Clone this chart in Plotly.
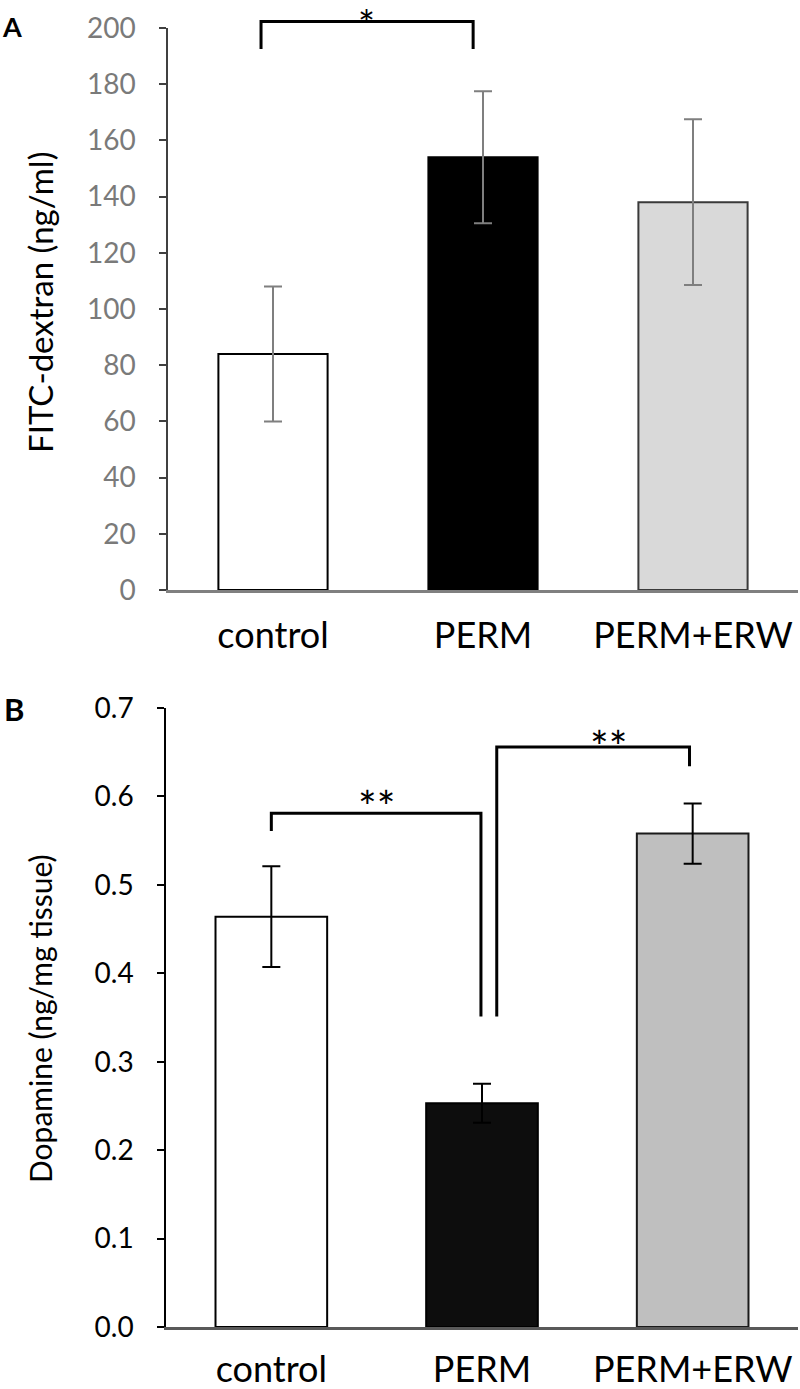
import plotly.graph_objects as go

categories = ["control", "PERM", "PERM+ERW"]

# Panel A: FITC-dextran (ng/ml)
fitc_mean = [84, 154, 138]
fitc_err = [24, 23.5, 29.5]
fitc_ticks = [0, 20, 40, 60, 80, 100, 120, 140, 160, 180, 200]

# Panel B: Dopamine (ng/mg tissue)
dopa_mean = [0.464, 0.253, 0.558]
dopa_err = [0.057, 0.022, 0.034]
dopa_ticks = [0.0, 0.1, 0.2, 0.3, 0.4, 0.5, 0.6, 0.7]

FONT = "Lato"
W, H = 800, 1389

fig = go.Figure()

fig.add_trace(go.Bar(
    x=categories, y=fitc_mean, xaxis="x", yaxis="y", width=0.52,
    marker=dict(color=["#ffffff", "#000000", "#d9d9d9"],
                line=dict(color=["#000000", "#000000", "#3a3a3a"], width=2)),
    error_y=dict(type="data", array=fitc_err, color="#7f7f7f", thickness=2, width=9),
    showlegend=False, hoverinfo="skip",
))
fig.add_trace(go.Bar(
    x=categories, y=dopa_mean, xaxis="x2", yaxis="y2", width=0.53,
    marker=dict(color=["#ffffff", "#0d0d0d", "#bfbfbf"],
                line=dict(color=["#000000", "#000000", "#1a1a1a"], width=2)),
    error_y=dict(type="data", array=dopa_err, color="#000000", thickness=2, width=9),
    showlegend=False, hoverinfo="skip",
))

def py(ypix):
    return (H - ypix) / H

axis_common = dict(showgrid=False, zeroline=False, showline=True, automargin=False)

fig.update_layout(
    width=W, height=H,
    margin=dict(l=0, r=0, t=0, b=0, autoexpand=False),
    paper_bgcolor="white", plot_bgcolor="white",
    font=dict(family=FONT, color="#000000"),
    xaxis=dict(domain=[168 / W, 798 / W], anchor="y", range=[-0.5, 2.5],
               linecolor="#808080", linewidth=2.5, ticks="", ticklabelstandoff=12,
               tickfont=dict(size=36, color="#000000"), **axis_common),
    yaxis=dict(domain=[py(590), py(28)], anchor="x", range=[0, 200],
               tickvals=fitc_ticks, linecolor="#404040", linewidth=1.5,
               ticks="outside", ticklen=7, tickcolor="#404040", tickwidth=1.5,
               ticklabelstandoff=18,
               tickfont=dict(size=28, color="#7a7a7a"),
               **axis_common),
    xaxis2=dict(domain=[166 / W, 798 / W], anchor="y2", range=[-0.5, 2.5],
                linecolor="#595959", linewidth=2.5, ticks="", ticklabelstandoff=9,
                tickfont=dict(size=36, color="#000000"), **axis_common),
    yaxis2=dict(domain=[py(1327), py(708)], anchor="x2", range=[0, 0.7],
                tickvals=dopa_ticks, tickformat=".1f", linecolor="#000000", linewidth=1.5,
                ticks="outside", ticklen=7, tickcolor="#000000", tickwidth=1.5,
                ticklabelstandoff=18,
                tickfont=dict(size=28, color="#000000"),
                **axis_common),
)

# Axis titles (rotated)
fig.add_annotation(x=40 / W, y=py(303), xref="paper", yref="paper",
                   text="FITC-dextran (ng/ml)", textangle=-90, showarrow=False,
                   xanchor="center", yanchor="middle", font=dict(size=33, color="#000000"))
fig.add_annotation(x=40 / W, y=py(1019), xref="paper", yref="paper",
                   text="Dopamine (ng/mg tissue)", textangle=-90, showarrow=False,
                   xanchor="center", yanchor="middle", font=dict(size=30, color="#000000"))

# Significance brackets
line_style = dict(color="#000000", width=3)
ymaxA = fitc_ticks[-1]
# Panel A bracket (values above the axis top, placed by domain fraction)
fig.add_shape(type="path", xref="x", yref="y domain",
              path=f"M -0.057,{192.5 / ymaxA} L -0.057,{202.3 / ymaxA} L 0.953,{202.3 / ymaxA} L 0.953,{192.5 / ymaxA}",
              line=line_style)
fig.add_annotation(x=0.445, y=1.0, xref="x", yref="y domain", text="*",
                   showarrow=False, yanchor="top", yshift=28, borderpad=0,
                   font=dict(size=40, color="#000000"))

# Panel B brackets
fig.add_shape(type="path", xref="x2", yref="y2",
              path="M 0.0,0.561 L 0.0,0.581 L 0.995,0.581 L 0.995,0.351",
              line=line_style)
fig.add_shape(type="path", xref="x2", yref="y2",
              path="M 1.07,0.351 L 1.07,0.656 L 1.985,0.656 L 1.985,0.634",
              line=line_style)
fig.add_annotation(x=0.5, y=0.5575, xref="x2", yref="y2", text="**", yanchor="bottom",
                   showarrow=False, font=dict(size=44, color="#000000"))
fig.add_annotation(x=1.6, y=0.6254, xref="x2", yref="y2", text="**", yanchor="bottom",
                   showarrow=False, font=dict(size=44, color="#000000"))

# Panel letters
fig.add_annotation(x=0, y=py(26), xref="paper", yref="paper", text="<b>A</b>",
                   showarrow=False, xanchor="left", yanchor="middle", font=dict(size=27, color="#000000"))
fig.add_annotation(x=2 / W, y=py(709), xref="paper", yref="paper", text="<b>B</b>",
                   showarrow=False, xanchor="left", yanchor="middle", font=dict(size=31, color="#000000"))

fig.write_html("out.html", config={"displayModeBar": False},
               post_script="document.body.style.margin='0px';document.body.style.overflow='hidden';")
